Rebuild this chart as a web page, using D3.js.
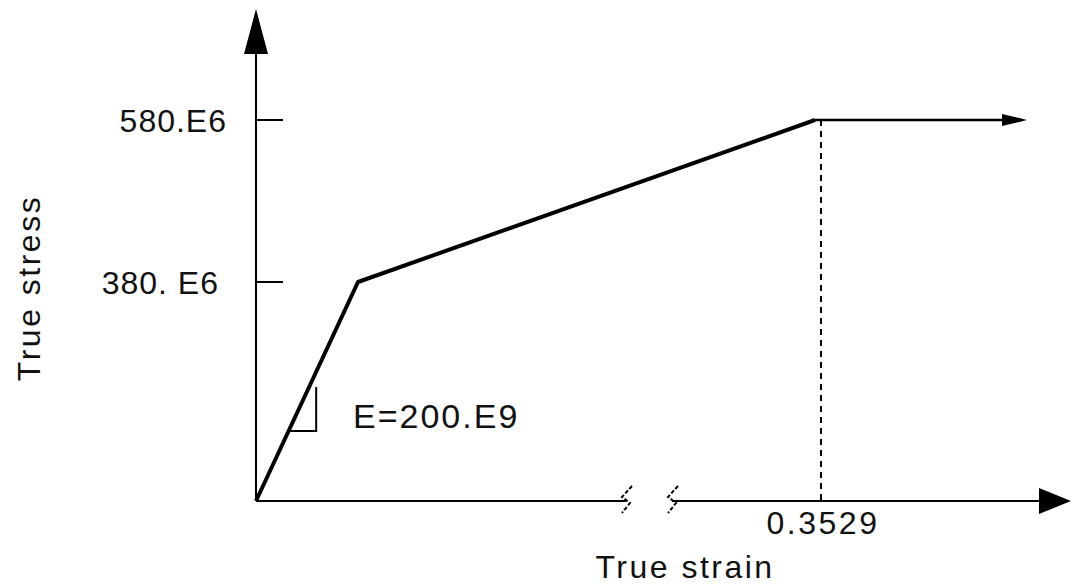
<!DOCTYPE html>
<html><head><meta charset="utf-8">
<script src="https://cdn.jsdelivr.net/npm/d3@7"></script>
<style>body{margin:0;background:#fff}svg{display:block}text{font-family:"Liberation Sans",Arial,sans-serif;fill:#111}</style>
</head><body>
<script>
// Data (schematic bilinear hardening)
const strainPts = [0, 0.0019, 0.3529, 0.5];
const stressPts = [0, 380e6, 580e6, 580e6];
const yTickValues = [380e6, 580e6];
const yTickLabels = ["380. E6", "580.E6"];
const xTickValues = [0.3529];
const xTickLabels = ["0.3529"];
const modulusLabel = "E=200.E9";
const xTitle = "True strain";
const yTitle = "True stress";

const W = 1073, H = 588;
const svg = d3.select("body").append("svg").attr("width", W).attr("height", H);

// schematic (broken) scales
const x = d3.scaleLinear().domain([0, 0.0019, 0.3529, 0.5]).range([256, 358, 815, 1022]);
const y = d3.scaleLinear().domain([0, 380e6, 580e6]).range([501, 282, 120]);
const x0 = x(0), y0 = y(0);

// Y axis
svg.append("line").attr("x1", x0).attr("x2", x0).attr("y1", y0).attr("y2", 40)
  .attr("stroke", "#000").attr("stroke-width", 2);
svg.append("path").attr("d", `M${x0},9 L${x0+12},54 L${x0-12},54 Z`).attr("fill", "#000");

// Y ticks
yTickValues.forEach((v, i) => {
  svg.append("line").attr("x1", x0).attr("x2", x0 + 27).attr("y1", y(v)).attr("y2", y(v))
    .attr("stroke", "#000").attr("stroke-width", 2);
  svg.append("text").attr("x", i === 0 ? 219 : 227).attr("y", y(v) + 12)
    .attr("text-anchor", "end").attr("font-size", 32).attr("letter-spacing", 1).text(yTickLabels[i]);
});

// X axis with break
const brk1 = 626, brk2 = 672;
svg.append("line").attr("x1", x0).attr("x2", brk1).attr("y1", y0).attr("y2", y0)
  .attr("stroke", "#000").attr("stroke-width", 2);
svg.append("line").attr("x1", brk2).attr("x2", 1045).attr("y1", y0).attr("y2", y0)
  .attr("stroke", "#000").attr("stroke-width", 2);
[brk1, brk2].forEach(bx => {
  svg.append("path")
    .attr("d", `M${bx+6},${y0-15} L${bx-4},${y0-4} L${bx+4},${y0+2} L${bx-4},${y0+12}`)
    .attr("fill", "none").attr("stroke", "#000").attr("stroke-width", 2)
    .attr("stroke-dasharray", "4,2");
});
svg.append("path").attr("d", `M1071,${y0} L1039,${y0-13} L1039,${y0+13} Z`).attr("fill", "#000");

// X tick
xTickValues.forEach((v, i) => {
  svg.append("line").attr("x1", x(v) + 6).attr("x2", x(v) + 6).attr("y1", y(580e6)).attr("y2", y0)
    .attr("stroke", "#000").attr("stroke-width", 2).attr("stroke-dasharray", "6,5");
  svg.append("text").attr("x", x(v) + 8).attr("y", y0 + 33).attr("text-anchor", "middle")
    .attr("font-size", 32).attr("letter-spacing", 2.5).text(xTickLabels[i]);
});

// Curve
const line = d3.line().x(d => x(d[0])).y(d => y(d[1]));
const pts = strainPts.map((s, i) => [s, stressPts[i]]);
svg.append("path").attr("d", line(pts.slice(0, 3))).attr("fill", "none")
  .attr("stroke", "#000").attr("stroke-width", 4).attr("stroke-linejoin", "round");
svg.append("path").attr("d", line(pts.slice(2))).attr("fill", "none")
  .attr("stroke", "#000").attr("stroke-width", 2.5);
const xe = x(strainPts[3]);
svg.append("path").attr("d", `M${xe+5},${y(580e6)} L${xe-20},${y(580e6)-6} L${xe-20},${y(580e6)+6} Z`).attr("fill", "#000");

// slope triangle
const tStrainA = 0.0019 * 0.32, tStrainB = 0.0019 * 0.59;
const tStressLo = 380e6 * 0.32;
const xa = x(tStrainA), xb = x(tStrainB), yl = y(tStressLo);
const yTop = y(380e6 * 0.52);
svg.append("path").attr("d", `M${xa},${yl} L${xb},${yl} L${xb},${yTop}`)
  .attr("fill", "none").attr("stroke", "#000").attr("stroke-width", 2);
svg.append("text").attr("x", 353).attr("y", 428).attr("font-size", 34).attr("letter-spacing", 2).text(modulusLabel);

// Titles
svg.append("text").attr("x", 685).attr("y", 578).attr("text-anchor", "middle")
  .attr("font-size", 32).attr("letter-spacing", 2.5).text(xTitle);
svg.append("text").attr("transform", "translate(40,288) rotate(-90)").attr("text-anchor", "middle")
  .attr("font-size", 32).attr("letter-spacing", 2.5).text(yTitle);
</script>
</body></html>
